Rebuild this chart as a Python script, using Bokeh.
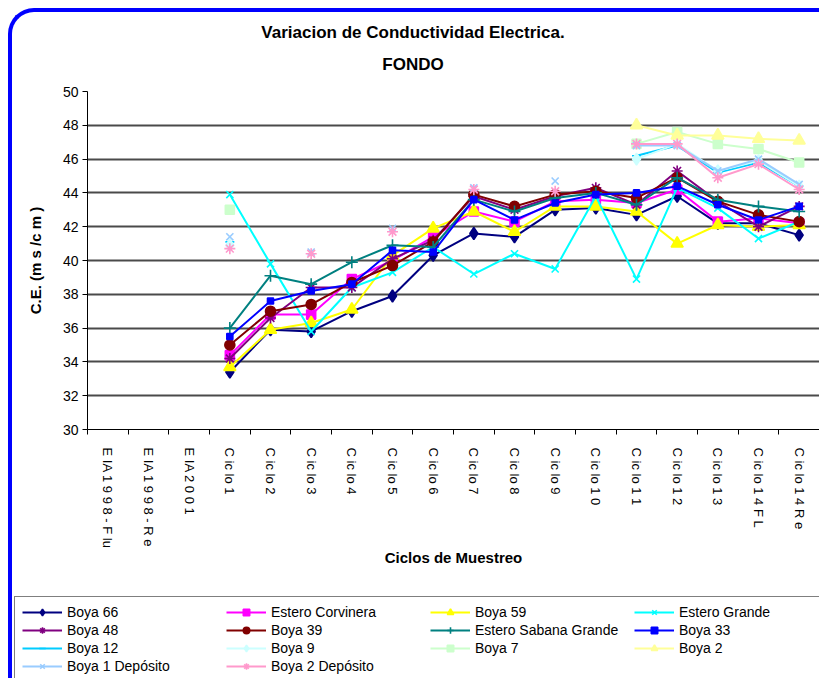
from bokeh.plotting import figure
from bokeh.models import Range1d, FixedTicker, Legend, LegendItem, Div
from bokeh.layouts import column
from bokeh.embed import file_html
from bokeh.resources import INLINE

nan = float("nan")

categories = ["E IA 1 9 9 8 - F lu", "E IA 1 9 9 8 - R e", "E IA 2 0 0 1",
              "C ic lo 1", "C ic lo 2", "C ic lo 3", "C ic lo 4", "C ic lo 5",
              "C ic lo 6", "C ic lo 7", "C ic lo 8", "C ic lo 9", "C ic lo 1 0",
              "C ic lo 1 1", "C ic lo 1 2", "C ic lo 1 3", "C ic lo 1 4 F L",
              "C ic lo 1 4 R e"]

y_ticks = [30, 32, 34, 36, 38, 40, 42, 44, 46, 48, 50]

boya_66 = [nan, nan, nan, 33.4, 35.9, 35.8, 37.0, 37.9, 40.3, 41.6, 41.4, 43.0, 43.1, 42.7, 43.8, 42.2, 42.2, 41.5]
estero_corvinera = [nan, nan, nan, 34.4, 36.8, 36.8, 38.9, 40.0, 41.4, 42.9, 42.3, 43.5, 43.6, 43.4, 44.2, 42.3, 42.5, 42.2]
boya_59 = [nan, nan, nan, 33.7, 35.9, 36.3, 37.1, 40.3, 41.9, 42.9, 41.7, 43.2, 43.2, 42.9, 41.0, 42.1, 42.0, 42.1]
estero_grande = [nan, nan, nan, 43.9, 39.8, 35.8, 38.4, 39.3, 40.8, 39.2, 40.4, 39.5, 43.8, 38.9, 44.3, 43.1, 41.3, 42.3]
boya_48 = [nan, nan, nan, 34.2, 36.6, 38.4, 38.4, 40.1, 41.2, 43.8, 43.0, 43.8, 44.3, 43.3, 45.3, 43.5, 42.0, 43.2]
boya_39 = [nan, nan, nan, 35.0, 37.0, 37.4, 38.7, 39.7, 41.1, 43.9, 43.2, 43.9, 44.1, 43.7, 44.9, 43.5, 42.7, 42.3]
estero_sabana_grande = [nan, nan, nan, 36.0, 39.1, 38.6, 39.9, 40.9, 40.8, 43.6, 42.9, 43.7, 44.0, 43.3, 44.9, 43.6, 43.2, 42.9]
boya_33 = [nan, nan, nan, 35.5, 37.6, 38.2, 38.6, 40.6, 40.5, 43.6, 42.4, 43.4, 43.9, 44.0, 44.4, 43.3, 42.4, 43.2]
boya_12 = [nan, nan, nan, 41.1, nan, nan, nan, nan, nan, nan, nan, nan, nan, 46.2, 46.8, 45.2, 45.8, 44.4]
boya_9 = [nan, nan, nan, 40.9, nan, nan, nan, nan, nan, nan, nan, nan, nan, 46.0, 46.9, 45.3, 45.9, 44.4]
boya_7 = [nan, nan, nan, 43.0, nan, nan, nan, nan, nan, nan, nan, nan, nan, 46.9, 47.6, 46.9, 46.6, 45.8]
boya_2 = [nan, nan, nan, nan, nan, nan, nan, nan, nan, nan, nan, nan, nan, 48.0, 47.4, 47.4, 47.2, 47.1]
boya_1_deposito = [nan, nan, nan, 41.4, nan, 40.5, nan, 41.9, nan, 44.3, nan, 44.7, nan, 46.8, 46.8, 45.3, 46.0, 44.5]
boya_2_deposito = [nan, nan, nan, 40.7, nan, 40.4, nan, 41.7, nan, 44.2, nan, 44.1, nan, 46.9, 46.9, 44.9, 45.7, 44.2]

series = [
    ("Boya 66", boya_66, "#000080", "diamond", 12),
    ("Estero Corvinera", estero_corvinera, "#FF00FF", "square", 9),
    ("Boya 59", boya_59, "#FFFF00", "triangle", 12),
    ("Estero Grande", estero_grande, "#00FFFF", "x", 10),
    ("Boya 48", boya_48, "#800080", "asterisk", 11),
    ("Boya 39", boya_39, "#800000", "circle", 10),
    ("Estero Sabana Grande", estero_sabana_grande, "#008080", "cross", 12),
    ("Boya 33", boya_33, "#0000FF", "square", 6),
    ("Boya 12", boya_12, "#00CCFF", "dash", 9),
    ("Boya 9", boya_9, "#CCFFFF", "diamond", 12),
    ("Boya 7", boya_7, "#CCFFCC", "square", 9),
    ("Boya 2", boya_2, "#FFFF99", "triangle", 12),
    ("Boya 1 Depósito", boya_1_deposito, "#99CCFF", "x", 10),
    ("Boya 2 Depósito", boya_2_deposito, "#FF99CC", "asterisk", 11),
]

FONT = "Liberation Sans"
W = 807

xs = [i + 0.5 for i in range(len(categories))]

# ---- title block ----
title_div = Div(
    text=("<div style=\"width:802px;text-align:center;font-family:'Liberation Sans';"
          "font-weight:bold;font-size:17px;line-height:32px;color:black;padding-top:5px\">"
          "Variacion de Conductividad Electrica.<br>FONDO</div>"),
    width=W, height=70, margin=0, styles={"overflow": "hidden"})

# ---- main chart ----
p = figure(width=W, height=508, output_backend="svg", toolbar_location=None, title=None,
           x_range=Range1d(0, len(categories)), y_range=Range1d(y_ticks[0], y_ticks[-1]),
           min_border_left=75, min_border_right=0, min_border_top=9, min_border_bottom=161)
p.frame_align = False
p.outline_line_color = None
p.background_fill_color = "white"
p.border_fill_color = "white"

for name, vals, color, marker, size in series:
    p.line(xs, vals, line_color=color, line_width=2)
    p.scatter(xs, vals, marker=marker, size=size, fill_color=color,
              line_color=color, line_width=1.6)

p.xgrid.visible = False
p.ygrid.grid_line_color = "#4a4a4a"
p.ygrid.grid_line_width = 2

xa = p.xaxis[0]
xa.ticker = FixedTicker(ticks=xs, minor_ticks=list(range(len(categories) + 1)))
xa.major_label_overrides = {x: c for x, c in zip(xs, categories)}
xa.major_tick_out = 0
xa.major_tick_in = 0
xa.minor_tick_out = 5
xa.minor_tick_in = 0
xa.minor_tick_line_color = "black"
xa.axis_line_color = "black"
xa.major_label_orientation = "vertical"
xa.major_label_standoff = 13
xa.major_label_text_font = FONT
xa.major_label_text_font_size = "13px"
xa.major_label_text_color = "black"
xa.axis_label = "Ciclos de Muestreo"
xa.axis_label_text_font = FONT
xa.axis_label_text_font_style = "bold"
xa.axis_label_text_font_size = "15px"
xa.axis_label_text_color = "black"
xa.axis_label_standoff = -3

ya = p.yaxis[0]
ya.ticker = FixedTicker(ticks=y_ticks, minor_ticks=[])
ya.major_tick_out = 5
ya.major_tick_in = 0
ya.axis_line_color = "black"
ya.major_tick_line_color = "black"
ya.major_label_standoff = 4
ya.major_label_text_font = FONT
ya.major_label_text_font_size = "14px"
ya.major_label_text_color = "black"
ya.axis_label = "C.E. (m s /c m )"
ya.axis_label_text_font = FONT
ya.axis_label_text_font_style = "bold"
ya.axis_label_text_font_size = "15px"
ya.axis_label_text_color = "black"
ya.axis_label_standoff = 16

# ---- legend block (its series lie outside this panel's visible range) ----
lg = figure(width=W, height=88, output_backend="svg", toolbar_location=None, title=None,
            x_range=Range1d(0, 1), y_range=Range1d(0, 1),
            x_axis_location=None, y_axis_location=None,
            min_border_left=0, min_border_right=0, min_border_top=0, min_border_bottom=0)
lg.frame_align = False
lg.outline_line_color = None
lg.xgrid.visible = False
lg.ygrid.visible = False
lg.border_fill_color = "white"
lg.background_fill_color = "white"

items = []
for name, vals, color, marker, size in series:
    r1 = lg.line(xs, vals, line_color=color, line_width=2)
    r2 = lg.scatter(xs, vals, marker=marker, size=size, fill_color=color,
                    line_color=color, line_width=1.6)
    items.append(LegendItem(label=name, renderers=[r1, r2]))

legend = Legend(items=items, ncols=4, orientation="horizontal", location=(2, -4),
                border_line_color="black", border_line_width=1,
                background_fill_color="white", background_fill_alpha=1,
                padding=7, spacing=2, margin=0,
                glyph_width=40, glyph_height=16, label_standoff=5,
                label_width=157, label_height=16,
                label_text_font=FONT, label_text_font_size="14px",
                label_text_color="black")
lg.add_layout(legend)

layout = column(title_div, p, lg, spacing=0)
layout.styles = {"border-left": "4px solid #0000FF", "border-top": "4px solid #0000FF",
                 "border-top-left-radius": "26px", "margin-left": "8px", "margin-top": "8px"}

open("out.html", "w").write(file_html(layout, INLINE))
